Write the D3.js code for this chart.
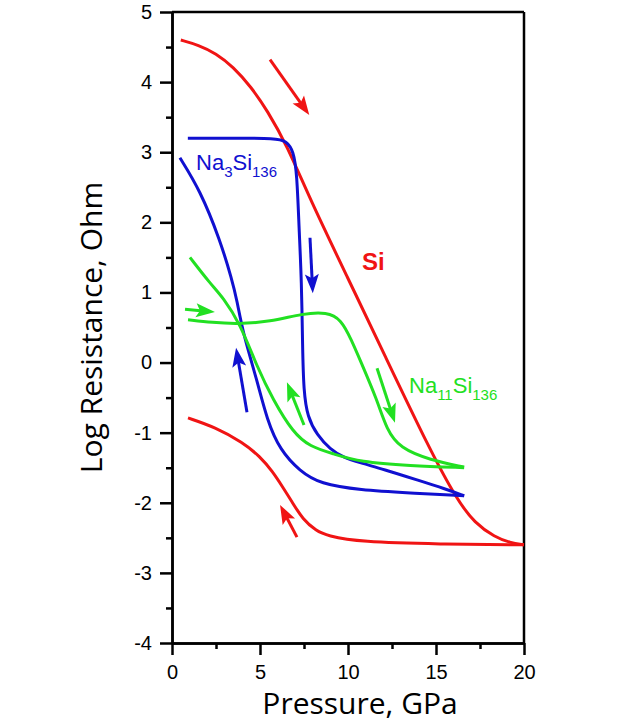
<!DOCTYPE html>
<html>
<head>
<meta charset="utf-8">
<script src="https://cdn.jsdelivr.net/npm/d3@7"></script>
<style>
  body { margin: 0; background: #fff; }
  svg { display: block; }
</style>
</head>
<body>
<div id="chart"></div>
<script>
// Curvas: [pressao GPa, log R], na ordem do percurso
const siUp = [[0.5, 4.6], [1.5, 4.53], [2.5, 4.41], [3.47, 4.22], [4.5, 3.93], [5.4, 3.6], [6.53, 3.1], [7.84, 2.33], [10, 1.2], [12, 0.15], [14.66, -1.25], [16.2, -1.96], [17.2, -2.29], [18.35, -2.49], [19.2, -2.57], [20, -2.6]];
const siDown = [[0.91, -0.79], [2.44, -0.92], [4.03, -1.14], [5.0, -1.34], [5.7, -1.55], [6.3, -1.78], [6.8, -1.98], [7.44, -2.24], [8.2, -2.4], [8.8, -2.47], [10.68, -2.56], [15.2, -2.59], [20, -2.6]];

const na3Up = [[0.9, 3.2], [3.5, 3.2], [5.9, 3.2], [6.5, 3.16], [6.9, 3.02], [7.1, 2.7], [7.22, 1.9], [7.36, 1.18], [7.42, 0.2], [7.48, -0.4], [7.7, -0.78], [8.24, -1.03], [9.0, -1.24], [9.72, -1.35], [10.68, -1.43], [12, -1.52], [14, -1.68], [15.5, -1.8], [16.6, -1.9]];
const na3Down = [[16.6, -1.9], [13.5, -1.86], [10.68, -1.82], [8.41, -1.73], [7.27, -1.55], [6.14, -1.25], [5.4, -0.82], [4.83, -0.25], [4.03, 0.42], [3.69, 0.89], [3.41, 1.18], [2.73, 1.75], [1.59, 2.46], [0.45, 2.92]];

const na11Up = [[0.91, 0.61], [2.3, 0.57], [3.69, 0.55], [5.57, 0.58], [7.44, 0.7], [8.8, 0.72], [9.6, 0.62], [10.2, 0.32], [10.68, 0.04], [11.65, -0.53], [12.2, -0.96], [12.95, -1.22], [14.66, -1.39], [16.6, -1.49]];
const na11Down = [[16.6, -1.5], [13.5, -1.47], [10.68, -1.42], [9.15, -1.3], [7.84, -1.2], [6.88, -1.0], [5.74, -0.53], [4.83, -0.06], [3.86, 0.56], [2.9, 0.93], [2.16, 1.13], [1.02, 1.5]];

// Setas: [inicio, ponta]
const redArrows = [[[5.57, 4.32], [7.8, 3.53]], [[7.1, -2.49], [6.14, -2.03]]];
const blueArrows = [[[7.84, 1.78], [8.0, 0.99]], [[4.26, -0.71], [3.64, 0.21]]];
const greenArrows = [[[0.74, 0.76], [2.44, 0.72]], [[7.5, -0.89], [6.53, -0.28]], [[11.65, -0.08], [12.67, -0.86]]];

const xTicks = [0, 5, 10, 15, 20];
const yTicks = [-4, -3, -2, -1, 0, 1, 2, 3, 4, 5];

const red = "#f01414", blue = "#1010d0", green = "#22e022";

const W = 640, H = 723;
const margin = { top: 12, right: 116, bottom: 80, left: 172 };
const width = W - margin.left - margin.right;
const height = H - margin.top - margin.bottom;

const svg = d3.select("#chart").append("svg")
    .attr("width", W)
    .attr("height", H);

const g = svg.append("g")
    .attr("transform", `translate(${margin.left},${margin.top})`);

const x = d3.scaleLinear().domain([0, 20]).range([0, width]);
const y = d3.scaleLinear().domain([-4, 5]).range([height, 0]);

// hifen simples como na figura
const fmt = d => (d < 0 ? "-" + Math.abs(d) : String(d));

// Eixos
const xAxis = g.append("g")
    .attr("transform", `translate(0,${height})`)
    .call(d3.axisBottom(x).tickValues(xTicks).tickSize(12).tickSizeOuter(0).tickPadding(10).tickFormat(fmt));
const xMinor = g.append("g")
    .attr("transform", `translate(0,${height})`)
    .call(d3.axisBottom(x).tickValues([2.5, 7.5, 12.5, 17.5]).tickSize(6).tickSizeOuter(0).tickFormat(""));
const yAxis = g.append("g")
    .call(d3.axisLeft(y).tickValues(yTicks).tickSize(12).tickSizeOuter(0).tickPadding(8).tickFormat(fmt));
const yMinor = g.append("g")
    .call(d3.axisLeft(y).tickValues(d3.range(-3.5, 5, 1)).tickSize(6).tickSizeOuter(0).tickFormat(""));

[xAxis, xMinor, yAxis, yMinor].forEach(a => {
    a.selectAll("path, line").attr("stroke", "#000").attr("stroke-width", 2.5);
    a.selectAll("text")
        .attr("fill", "#000")
        .style("font-family", "'Liberation Sans', Arial, sans-serif")
        .style("font-size", "20px");
});

// Moldura superior e direita
g.append("line").attr("x1", 0).attr("x2", width).attr("y1", 0).attr("y2", 0)
    .attr("stroke", "#000").attr("stroke-width", 2.5);
g.append("line").attr("x1", width).attr("x2", width).attr("y1", 0).attr("y2", height)
    .attr("stroke", "#000").attr("stroke-width", 2.5);

// Titulos
svg.append("text")
    .attr("x", 360)
    .attr("y", 714)
    .attr("text-anchor", "middle")
    .style("font-family", "'Open Sans', sans-serif")
    .style("font-size", "30px")
    .text("Pressure, GPa");

svg.append("text")
    .attr("transform", `translate(102,${margin.top + height / 2}) rotate(-90)`)
    .attr("text-anchor", "middle")
    .style("font-family", "'Open Sans', sans-serif")
    .style("font-size", "30px")
    .text("Log Resistance, Ohm");

// Curvas (B-spline suaviza a leitura dos pontos)
const line = d3.line()
    .x(d => x(d[0]))
    .y(d => y(d[1]))
    .curve(d3.curveBasis);

const curves = [
    [siUp, red], [siDown, red],
    [na3Up, blue], [na3Down, blue],
    [na11Up, green], [na11Down, green]
];
g.selectAll("path.curve")
    .data(curves)
    .enter()
    .append("path")
    .attr("class", "curve")
    .attr("d", d => line(d[0]))
    .attr("fill", "none")
    .attr("stroke", d => d[1])
    .attr("stroke-width", 3);

// Setas
function drawArrows(list, color) {
    list.forEach(([a, b]) => {
        const x1 = x(a[0]), y1 = y(a[1]), x2 = x(b[0]), y2 = y(b[1]);
        const ang = Math.atan2(y2 - y1, x2 - x1);
        const headLen = 15, headW = 7;
        const bx = x2 - headLen * Math.cos(ang), by = y2 - headLen * Math.sin(ang);
        g.append("line")
            .attr("x1", x1).attr("y1", y1)
            .attr("x2", bx + 3 * Math.cos(ang)).attr("y2", by + 3 * Math.sin(ang))
            .attr("stroke", color).attr("stroke-width", 3);
        const px = -Math.sin(ang), py = Math.cos(ang);
        const back = 4;
        g.append("path")
            .attr("d", `M${x2},${y2} L${bx + headW * px - back * Math.cos(ang)},${by + headW * py - back * Math.sin(ang)} L${bx},${by} L${bx - headW * px - back * Math.cos(ang)},${by - headW * py - back * Math.sin(ang)} Z`)
            .attr("fill", color);
    });
}
drawArrows(redArrows, red);
drawArrows(blueArrows, blue);
drawArrows(greenArrows, green);

// Rotulos
const labelFont = "'Liberation Sans', Arial, sans-serif";
const na3 = svg.append("text")
    .attr("x", 196).attr("y", 170)
    .attr("fill", blue)
    .style("font-family", labelFont)
    .style("font-size", "22px");
na3.append("tspan").text("Na");
na3.append("tspan").attr("dy", 7).style("font-size", "15px").text("3");
na3.append("tspan").attr("dy", -7).text("Si");
na3.append("tspan").attr("dy", 7).style("font-size", "15px").text("136");

svg.append("text")
    .attr("x", 362).attr("y", 270)
    .attr("fill", red)
    .style("font-family", labelFont)
    .style("font-size", "24px")
    .style("font-weight", "bold")
    .text("Si");

const na11 = svg.append("text")
    .attr("x", 409).attr("y", 393)
    .attr("fill", green)
    .style("font-family", labelFont)
    .style("font-size", "22px");
na11.append("tspan").text("Na");
na11.append("tspan").attr("dy", 7).style("font-size", "15px").text("11");
na11.append("tspan").attr("dy", -7).text("Si");
na11.append("tspan").attr("dy", 7).style("font-size", "15px").text("136");
</script>
</body>
</html>
